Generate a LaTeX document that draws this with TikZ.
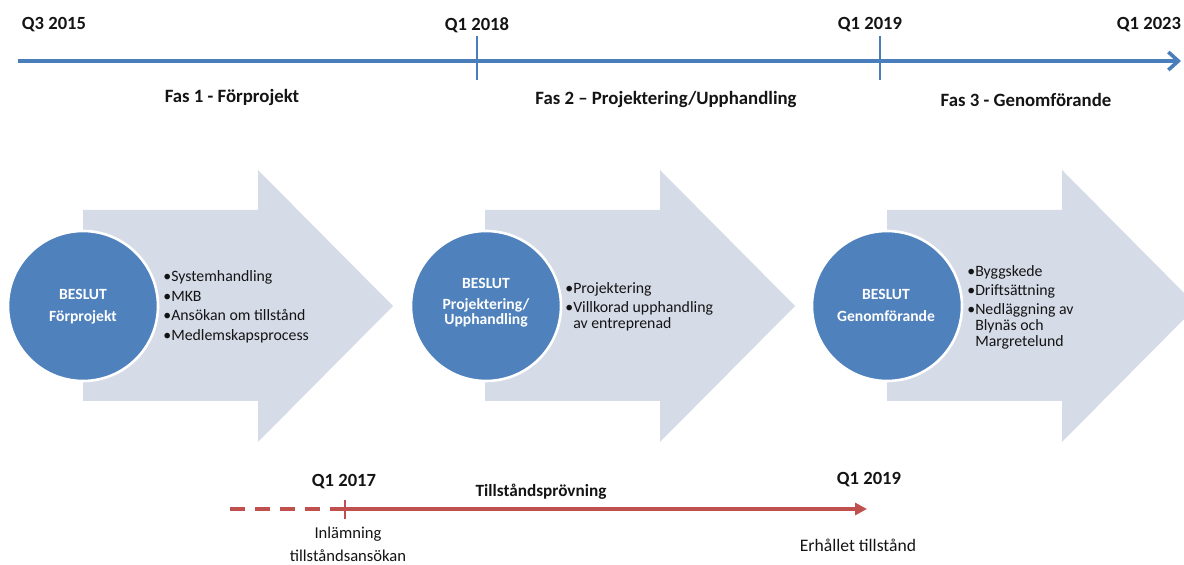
\documentclass[tikz,border=0pt]{standalone}
\usepackage{fontspec}
\setmainfont{Carlito}
\usetikzlibrary{arrows.meta}

\definecolor{lineblue}{RGB}{74,126,187}
\definecolor{circblue}{RGB}{79,129,189}
\definecolor{arrowfill}{RGB}{213,219,231}
\definecolor{linered}{RGB}{192,80,77}
\definecolor{txtgrey}{RGB}{20,20,20}

\tikzset{
    datelabel/.style={font=\fontsize{9.3}{11}\selectfont\bfseries, text=txtgrey},
    faslabel/.style={font=\fontsize{9.4}{11}\selectfont\bfseries, text=txtgrey},
    beslut/.style={circle, fill=circblue, draw=white, line width=1.3pt, minimum size=75pt, inner sep=0pt},
    beslutText/.style={font=\fontsize{7.8}{7.5}\selectfont\bfseries, text=white, align=center},
    bullets/.style={font=\fontsize{7.9}{8}\selectfont, text=txtgrey, align=left, anchor=north west, inner sep=0pt},
    bigArrow/.style={fill=arrowfill, draw=none},
    tline/.style={lineblue, line width=2.4pt},
    rline/.style={linered, line width=1.6pt},
    lowlabel/.style={font=\fontsize{8.3}{11.5}\selectfont, text=txtgrey, align=center}
}

\begin{document}
\begin{tikzpicture}[x=0.5pt, y=-0.5pt]
    \useasboundingbox (0,0) rectangle (1184,565);
    \clip (0,0) rectangle (1184,565);

    % top timeline
    \coordinate (top start) at (18,61);
    \coordinate (top end) at (1181,61);
    \draw[tline, -{Straight Barb[length=5pt, width=9pt, line width=1.8pt]}] (top start) -- (top end);
    \coordinate (tick a top) at (477,36);
    \coordinate (tick a bot) at (477,80);
    \coordinate (tick b top) at (880,36);
    \coordinate (tick b bot) at (880,80);
    \draw[lineblue, line width=1.4pt] (tick a top) -- (tick a bot);
    \draw[lineblue, line width=1.4pt] (tick b top) -- (tick b bot);

    \node[datelabel] (q3-2015) at (54,25) {Q3 2015};
    \node[datelabel] (q1-2018) at (477,25) {Q1 2018};
    \node[datelabel] (q1-2019) at (870,25) {Q1 2019};
    \node[datelabel] (q1-2023) at (1149,25) {Q1 2023};

    \node[faslabel] (fas1) at (232,98) {Fas 1 - Förprojekt};
    \node[faslabel] (fas2) at (666,100) {Fas 2 – Projektering/Upphandling};
    \node[faslabel] (fas3) at (1026,100) {Fas 3 - Genomförande};

    % big arrows
    \foreach \xo in {0,402,804} {
        \fill[bigArrow] (83+\xo,210) -- (258+\xo,210) -- (258+\xo,170) -- (393+\xo,306)
            -- (258+\xo,442) -- (258+\xo,401) -- (83+\xo,401) -- cycle;
    }

    % decision circles
    \node[beslut] (c1) at (83,306) {};
    \node[beslut] (c2) at (486,306) {};
    \node[beslut] (c3) at (887,306) {};
    \node[beslutText] (c1 text) at (83,307) {BESLUT\\[3.5pt]Förprojekt};
    \node[beslutText] (c2 text) at (486,303) {BESLUT\\[3pt]Projektering/\\Upphandling};
    \node[beslutText] (c3 text) at (886,305) {BESLUT\\[3.5pt]Genomförande};

    \node[bullets] (b1) at (163,270) {•Systemhandling\\[1.85pt]•MKB\\[1.85pt]•Ansökan om tillstånd\\[1.85pt]•Medlemskapsprocess};
    \node[bullets] (b2) at (565,282) {•Projektering\\[1.6pt]•Villkorad upphandling\\\phantom{•}av entreprenad};
    \node[bullets] (b3) at (967,265) {•Byggskede\\[1.6pt]•Driftsättning\\[1.6pt]•Nedläggning av\\\phantom{•}Blynäs och\\\phantom{•}Margretelund};

    % permit timeline
    \coordinate (red dash) at (230,509);
    \coordinate (red tick) at (345,509);
    \coordinate (red end) at (867,509);
    \coordinate (red tick top) at (345,500);
    \coordinate (red tick bot) at (345,519);
    \draw[rline, dash pattern=on 7.5pt off 5pt] (red dash) -- (red tick);
    \draw[rline, -{Triangle[length=6pt, width=6pt]}] (red tick) -- (red end);
    \draw[linered, line width=1.2pt] (red tick top) -- (red tick bot);

    \node[datelabel] (q1-2017) at (344,482) {Q1 2017};
    \node[datelabel] (q1-2019b) at (869,480) {Q1 2019};
    \node[datelabel, font=\fontsize{8.6}{10}\selectfont\bfseries] (provning) at (541,492) {Tillståndsprövning};
    \node[lowlabel] (inlamning) at (348,544) {Inlämning\\tillståndsansökan};
    \node[lowlabel, font=\fontsize{8.8}{11.5}\selectfont] (erhallet) at (858,545) {Erhållet tillstånd};
\end{tikzpicture}
\end{document}
